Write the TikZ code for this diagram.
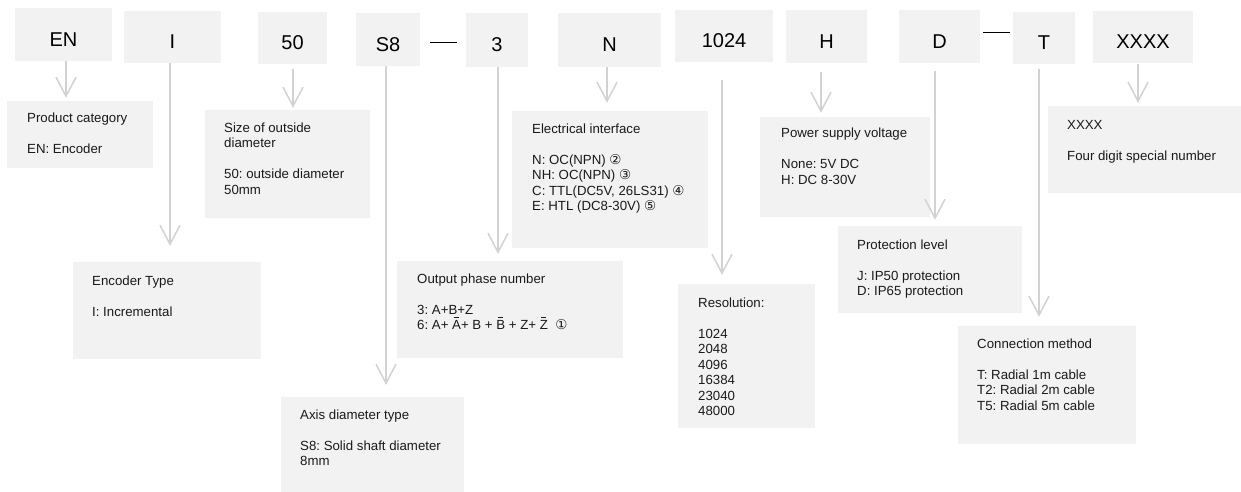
\documentclass[tikz,border=0pt]{standalone}
\usepackage{fontspec}
\setmainfont{Liberation Sans}
\newfontfamily\dejavu{DejaVu Sans}
\usetikzlibrary{arrows.meta}
\definecolor{boxfill}{HTML}{F2F2F2}
\definecolor{linegray}{HTML}{D2D2D2}
\definecolor{txt}{HTML}{1A1A1A}
\frenchspacing
\newcommand\desclines[1]{\vtop{\frenchspacing\baselineskip=15.5pt\lineskiplimit=-20pt\lineskip=0pt\halign{##\hfil\cr#1\crcr}}}
\newcommand\ovl[1]{\leavevmode\setbox0\hbox{#1}\rlap{\hbox to\wd0{\hss\raise 12pt\hbox{\vrule width 0.6\wd0 height 0.6pt}\hss}}\box0\relax}
\newcommand\cnum[1]{{\dejavu\fontsize{13.5}{13.5}\selectfont #1}}
\begin{document}
\begin{tikzpicture}[x=1pt,y=1pt,
  box/.style={fill=boxfill, inner sep=0pt, draw=none},
  toplabel/.style={font=\fontsize{20}{24}\selectfont, text=black, inner sep=0pt},
  desc/.style={font=\fontsize{13.25}{15.5}\selectfont, text=txt, inner sep=0pt, anchor=base west},
  conn/.style={draw=linegray, line width=1.5pt, -{Straight Barb[length=19pt,width=20pt]}},
  sepline/.style={draw=black, line width=0.9pt}]

\useasboundingbox (0,0) rectangle (1241,-492);

% top code boxes
\node[box, minimum width=97pt, minimum height=53pt] (en) at (63.5,-34.5) {};
\node[box, minimum width=97pt, minimum height=52pt] (i) at (172.5,-37) {};
\node[box, minimum width=69pt, minimum height=52pt] (fifty) at (292.5,-38) {};
\node[box, minimum width=64pt, minimum height=53pt] (s8) at (388,-39.5) {};
\node[box, minimum width=62pt, minimum height=54pt] (three) at (497,-40) {};
\node[box, minimum width=103pt, minimum height=54pt] (n) at (609.5,-40) {};
\node[box, minimum width=98pt, minimum height=52pt] (res) at (724,-36) {};
\node[box, minimum width=81pt, minimum height=53pt] (h) at (826.5,-36.5) {};
\node[box, minimum width=81pt, minimum height=53pt] (d) at (939.5,-36.5) {};
\node[box, minimum width=62pt, minimum height=52pt] (t) at (1044,-38) {};
\node[box, minimum width=100pt, minimum height=52pt] (x) at (1143,-37) {};

\node[toplabel] (enL) at ([yshift=-5pt]en.center) {EN};
\node[toplabel] (iL) at ([yshift=-5pt]i.center) {I};
\node[toplabel] (fiftyL) at ([yshift=-5pt]fifty.center) {50};
\node[toplabel] (s8L) at ([yshift=-5pt]s8.center) {S8};
\node[toplabel] (threeL) at ([yshift=-5pt]three.center) {3};
\node[toplabel] (nL) at ([yshift=-5pt]n.center) {N};
\node[toplabel] (resL) at ([yshift=-5pt]res.center) {1024};
\node[toplabel] (hL) at ([yshift=-5pt]h.center) {H};
\node[toplabel] (dL) at ([yshift=-5pt]d.center) {D};
\node[toplabel] (tL) at ([yshift=-5pt]t.center) {T};
\node[toplabel] (xL) at ([yshift=-5pt]x.center) {XXXX};

% separators
\coordinate (ds1) at ([xshift=10pt,yshift=-2.5pt]s8.east);
\draw[sepline] (ds1) -- ([xshift=-9pt]three.west |- ds1);
\coordinate (ds2) at ([xshift=3pt,yshift=4.5pt]d.east);
\draw[sepline] (ds2) -- ([xshift=-3pt]t.west |- ds2);

% description boxes
\node[box, minimum width=146pt, minimum height=67pt] (pc) at (80,-134.5) {};
\node[box, minimum width=165pt, minimum height=108pt] (sz) at (287.5,-164) {};
\node[box, minimum width=188pt, minimum height=97pt] (et) at (167,-310.5) {};
\node[box, minimum width=226pt, minimum height=97pt] (op) at (510,-309.5) {};
\node[box, minimum width=183pt, minimum height=98pt] (ad) at (372.5,-446) {};
\node[box, minimum width=196pt, minimum height=137pt] (ei) at (610,-179.5) {};
\node[box, minimum width=137pt, minimum height=144pt] (rs) at (746.5,-356) {};
\node[box, minimum width=170pt, minimum height=100pt] (ps) at (845,-167) {};
\node[box, minimum width=184pt, minimum height=87pt] (pl) at (930,-269.5) {};
\node[box, minimum width=178pt, minimum height=118pt] (cm) at (1047,-385) {};
\node[box, minimum width=197pt, minimum height=87pt] (xx) at (1146.5,-149.5) {};

% description texts
\node[desc] (pcT) at (27,-123) {\desclines{Product category\cr{}\cr EN: Encoder}};
\node[desc] (szT) at (224,-132) {\desclines{Size of outside\cr diameter\cr{}\cr 50: outside diameter\cr 50mm}};
\node[desc] (etT) at (92,-285) {\desclines{Encoder Type\cr{}\cr I: Incremental}};
\node[desc] (opT) at (417,-283) {\desclines{Output phase number\cr{}\cr 3: A+B+Z\cr 6: A+\ \ovl{A}+ B +\ \ovl{B} + Z+\ \ovl{Z}\ \ \cnum{①}}};
\node[desc] (adT) at (300,-419) {\desclines{Axis diameter type\cr{}\cr S8: Solid shaft diameter\cr 8mm}};
\node[desc] (eiT) at (532,-133) {\desclines{Electrical interface\cr{}\cr N: OC(NPN) \cnum{②}\cr NH: OC(NPN) \cnum{③}\cr C: TTL(DC5V, 26LS31) \cnum{④}\cr E: HTL (DC8-30V) \cnum{⑤}}};
\node[desc] (rsT) at (698,-307) {\desclines{Resolution:\cr{}\cr 1024\cr 2048\cr 4096\cr 16384\cr 23040\cr 48000}};
\node[desc] (psT) at (781,-138) {\desclines{Power supply voltage\cr{}\cr None: 5V DC\cr H: DC 8-30V}};
\node[desc] (plT) at (857,-249) {\desclines{Protection level\cr{}\cr J: IP50 protection\cr D: IP65 protection}};
\node[desc] (cmT) at (977,-348) {\desclines{Connection method\cr{}\cr T: Radial 1m cable\cr T2: Radial 2m cable\cr T5: Radial 5m cable}};
\node[desc] (xxT) at (1067,-129) {\desclines{XXXX\cr{}\cr Four digit special number}};

% connectors
\coordinate (enA) at ([xshift=2.5pt]en.south);
\draw[conn, shorten >=3pt] (enA) -- (enA |- pc.north);
\coordinate (iA) at ([xshift=-2.5pt]i.south);
\draw[conn, shorten >=16pt] (iA) -- (iA |- et.north);
\coordinate (fiftyA) at ([xshift=0.5pt]fifty.south);
\draw[conn, shorten <=5pt, shorten >=2pt] (fiftyA) -- (fiftyA |- sz.north);
\coordinate (s8A) at ([xshift=-2pt]s8.south);
\draw[conn, shorten >=12pt] (s8A) -- (s8A |- ad.north);
\coordinate (threeA) at ([xshift=1pt]three.south);
\draw[conn, shorten >=7pt] (threeA) -- (threeA |- op.north);
\coordinate (nA) at ([xshift=-2.5pt]n.south);
\draw[conn, shorten >=8pt] (nA) -- (nA |- ei.north);
\coordinate (resA) at ([xshift=-2pt]res.south);
\draw[conn, shorten <=18pt, shorten >=9pt] (resA) -- (resA |- rs.north);
\coordinate (hA) at ([xshift=-5.5pt]h.south);
\draw[conn, shorten <=9pt, shorten >=4pt] (hA) -- (hA |- ps.north);
\coordinate (dA) at ([xshift=-4.5pt]d.south);
\draw[conn, shorten <=8pt, shorten >=6pt] (dA) -- (dA |- pl.north);
\coordinate (tA) at ([xshift=-5pt]t.south);
\draw[conn, shorten <=5pt, shorten >=9pt] (tA) -- (tA |- cm.north);
\coordinate (xA) at ([xshift=-5pt]x.south);
\draw[conn, shorten <=1pt, shorten >=3pt] (xA) -- (xA |- xx.north);
\end{tikzpicture}
\end{document}
